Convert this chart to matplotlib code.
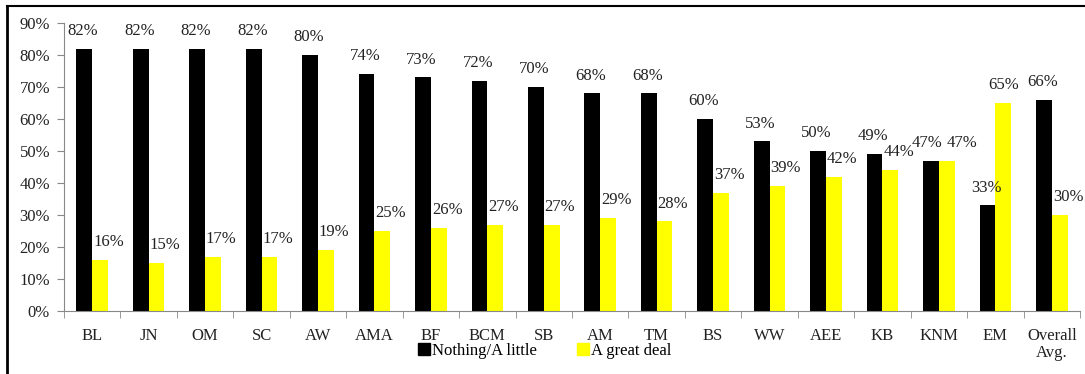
import matplotlib
matplotlib.use("Agg")
import matplotlib.pyplot as plt
import numpy as np
from matplotlib.lines import Line2D
from matplotlib.patches import Patch

categories = ["BL", "JN", "OM", "SC", "AW", "AMA", "BF", "BCM", "SB", "AM",
              "TM", "BS", "WW", "AEE", "KB", "KNM", "EM", "Overall\nAvg."]
nothing_little = [82, 82, 82, 82, 80, 74, 73, 72, 70, 68, 68, 60, 53, 50, 49, 47, 33, 66]
great_deal = [16, 15, 17, 17, 19, 25, 26, 27, 27, 29, 28, 37, 39, 42, 44, 47, 65, 30]
series_names = ["Nothing/A little", "A great deal"]

plt.rcParams["font.family"] = ["Liberation Serif", "DejaVu Serif"]

W, H = 1085, 374
fig = plt.figure(figsize=(W / 100, H / 100), dpi=100)
ax = fig.add_axes([64 / W, 1 - 311 / H, (1080 - 64) / W, (311 - 23) / H])

x = np.arange(len(categories))
bw = 0.28
ax.bar(x - bw / 2, nothing_little, bw, color="black", label=series_names[0])
ax.bar(x + bw / 2, great_deal, bw, color="#ffff00", label=series_names[1])

for xi, a, b in zip(x, nothing_little, great_deal):
    # labels of equal bars are pushed apart so they do not collide
    ax_dx, b_dx = (-3, 11) if a == b else (-1, 6 if b < a else 0)
    ax.annotate(f"{a}%", (xi - bw / 2, a), xytext=(ax_dx, 7), textcoords="offset points",
                ha="center", va="bottom", fontsize=12, color="#222222")
    ax.annotate(f"{b}%", (xi + bw / 2, b), xytext=(b_dx, 7), textcoords="offset points",
                ha="center", va="bottom", fontsize=12, color="#222222")

ax.set_xlim(-0.5, len(categories) - 0.5)
ax.set_ylim(0, 90)
ax.set_yticks(np.arange(0, 91, 10))
ax.set_yticklabels([f"{v}%" for v in range(0, 91, 10)], fontsize=12, color="#222222")
ax.set_xticks(x)
ax.set_xticklabels(categories, fontsize=12, linespacing=1.15, color="#222222")
ax.tick_params(axis="x", length=0, pad=12)
ax.set_xticks(np.arange(-0.5, len(categories), 1), minor=True)
ax.tick_params(axis="x", which="minor", length=5, color="#888888", direction="out")
ax.tick_params(axis="y", length=5, color="#888888", direction="out", pad=5)

for side in ("top", "right"):
    ax.spines[side].set_visible(False)
for side in ("left", "bottom"):
    ax.spines[side].set_color("#888888")

handles = [Patch(color="black"), Patch(color="#ffff00")]
fig.legend(handles, series_names, loc="center", bbox_to_anchor=(0.502, 1 - 351 / H),
           ncol=2, frameon=False, fontsize=12, handlelength=0.7, handleheight=0.7,
           handletextpad=0.15, columnspacing=2.4, borderpad=0)

# outer frame lines (left and top)
fig.add_artist(Line2D([7 / W, 7 / W], [0, 1 - 6 / H], color="black", lw=2))
fig.add_artist(Line2D([7 / W, 1], [1 - 6 / H, 1 - 6 / H], color="black", lw=1.5))

fig.savefig("out.png", dpi=100)
